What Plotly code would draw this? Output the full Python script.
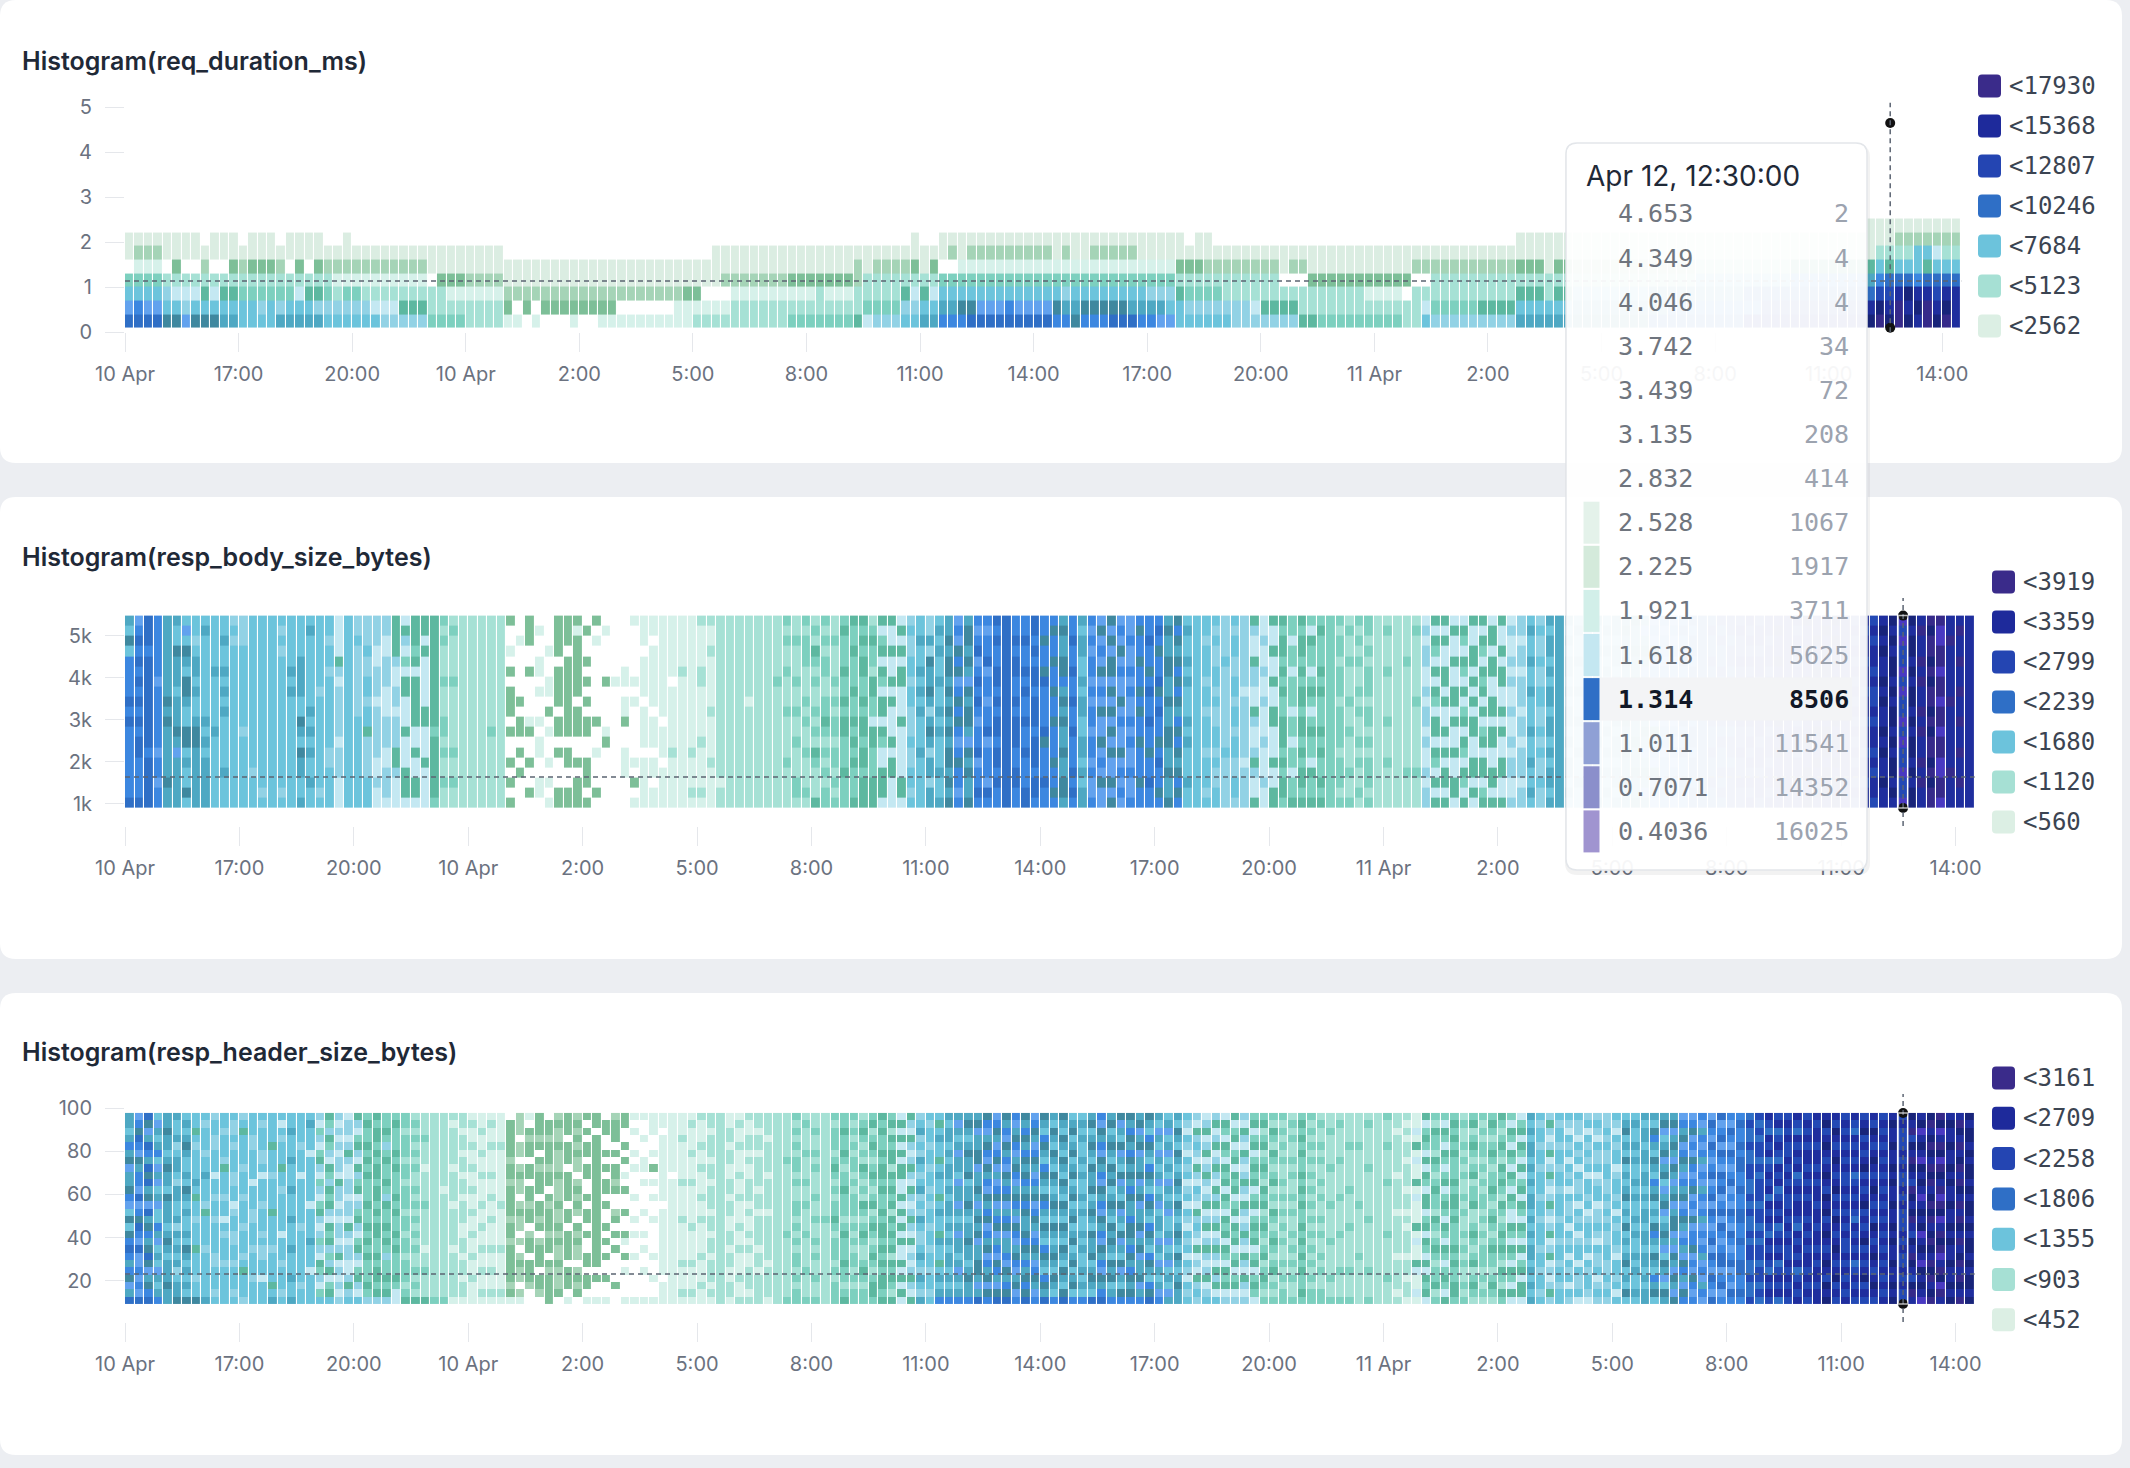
import re
import plotly.graph_objects as go

W, H = 2130, 1468
NCOL = 194            # 15-minute buckets, 10 Apr 14:00 -> 12 Apr 14:30
BIN_HOURS = 0.25

X_TICK_HOURS = [0, 3, 6, 9, 12, 15, 18, 21, 24, 27, 30, 33, 36, 39, 42, 45, 48]
X_TICK_TEXT = ["10 Apr", "17:00", "20:00", "10 Apr", "2:00", "5:00", "8:00", "11:00",
               "14:00", "17:00", "20:00", "11 Apr", "2:00", "5:00", "8:00", "11:00", "14:00"]

# colour classes seen in the heat cells ('.' = empty bucket)
PALETTE = {
    'a': '#d6f1ea', 'b': '#dbede2', 'c': '#a5d4b7', 'd': '#7dbf98', 'e': '#5db8a0',
    'f': '#a6e1d5', 'g': '#7dd0bf', 'h': '#c4e8f2', 'i': '#92d2e5', 'j': '#6cc4dc',
    'k': '#4ea8c3', 'l': '#3f889f', 'm': '#62a2ee', 'n': '#3c87e0', 'o': '#2f6fc6',
    'p': '#2349b5', 'q': '#1f2e9e', 'r': '#18247a', 's': '#362a8a', 't': '#4939c2',
}
CODES = list(PALETTE.keys())

# ---------------- panel 1: req_duration_ms (rows bottom -> top, run-length encoded)
P1_TITLE = "Histogram(req_duration_ms)"
P1_BUCKET_EDGES = [0.1, 0.4036, 0.7071, 1.011, 1.314, 1.618, 1.921, 2.225, 2.528]
P1_ROWS = [
    "4o2l1m3l2k4j5k6j5i4g4f2a1.1a3.1a2.10a10f7g1e1h3i2j2k3n9o2n1l3n3o2n2m6j7i2e9g2f1j9i6k8l10o13q1r1s1r1s1r1q1s1r1s1q",
    "1m1n2m2j1i7j1i1j1i3j6i3h3e8f1d1.1d1.8d6.6a14f4g2i2j2k2l3m1n4m1l2k5l4k2j7i1h4e13f1h5g4e6j10k10n11p1q1r1q1s1q1r1s1q1r1q",
    "4j1i3h1e1h2e6g1h2e1g1f2g9f6a19c2d3.9a1f3a5f1e1h1e1h13j1i8j3i1e4g15f4a1.11f3e1f2e8j10k13o1o1p1p1q1r1q1q1p1q1q",
    "4g18f10a1.3d4c23b7c7d1c8f25g11f3.11d2.15f13f10j8n1k1n1o1o1o1n1o1o1o1o",
    "1.3a1.1d2.1c2.1d1c3d1c1.1d1.1d11c45b1c1b4c1d1b1d2.23a3d8c1b2c11b11c3d1b2d13c10f8e1e1j1e1j1j1j1e1j1j1j",
    "1b3c36b22.25b1c1b9c1b1c2b5c46b31b1b1f1f1f1f1j1j1h1f1f",
    "8b1.3b1.3b1.4b2.1b59.1b2.26b1.2b32.6b31b3b7c",
    "184.10b",
]
P1_LEGEND = ["<17930", "<15368", "<12807", "<10246", "<7684", "<5123", "<2562"]

# ---------------- panel 2: resp_body_size_bytes (one string per column, top -> bottom)
P2_TITLE = "Histogram(resp_body_size_bytes)"
P2_BUCKET_START, P2_BUCKET_WIDTH, P2_NROWS = 905, 240.5, 19
P2_COLS = [
    "kjljnnnnononnnnnnno", "mnonononononoonnnno", "ooonooooooooonooooo", "nnnnnnmnnnnnnmnnmnn",
    "kkkkkkkklklkkkkklkk", "kjjlkkkjkkklkmkkkkk", "jmjlkjllkjjlljkjjlj", "jjijkkjkjjkllkkkkkk",
    "jkjjjjjjjjkjkjkkkkk", "jjjjjkjjjjjkjjjjjjj", "jjkjjkjkjkjjjjjkjjj", "ijijjjjjjjjjjjjjjjj",
    "iiijjjjjjjjijjjjjjj", "jjjjjjjjjjjjjjjijjj", "jjjjjjjjjjjjjjjjjij", "jjjjjjjjjjjjjjjjjjj",
    "jijijjjjjjjjjjjjjij", "jjjjjkjkjjjjjjjjjjj", "jjjjkkkkjjlkjlkkjjk", "jkjjjjjjjkjkjkjjkjj",
    "jjjjjjjijjjjjjjjjij", "jjijjijjjjjjjiijjjj", "hhhheihiiiiihiiihhh", "jjjjjjjjjjjjjjjjjjj",
    "iijiiiiiiijjjjjjjjj", "iiijiijjijjeiiiijjj", "iiihhiiihiiiiihhihh", "iihhiiihhhiiihhiiih",
    "eeeeihhiihiiieeihhh", "heihgheehhhehhheeeh", "eeegeheeeeehhehheeh", "eehehhhhheehhhehhhh",
    "eeeeeeeeeeegeeeeeeg", "gfgfffgfffggfgffgff", "fgffffgffffffgffgff", "fffffffffffffffffff",
    "fffffffffffffffffff", "fffffffffffffffffff", "fffffffffffgfffffff", "fffffffffffffffffff",
    "d..a.d.ddd.d..d.d.d", "..a.....d.dd.d.d...", "ddd..d....ad..d..d.", ".a..aa.a..a.aa..aa.",
    "...a..aa.d.a..a.a.a", "dddd.dddd.dd.d...dd", "ddd.dddddddd.dd..dd", "dadddddd.ddd..d.ddd",
    ".d..d.d.d.dd..ddd.d", "d.a.......d..a...d.", ".a....d....ad......", "......a............",
    ".....aa.aad..aaa...", "a.....a.a.....a.d.a", "aaa.aaaa.aaaa.aaaaa", "aa.aaaaaa.aaa.aa.aa",
    "aaaaaaaaaa.aaa.aaaa", "aaaaaa.aaaaaafaaaaa", "aaaaafaaaaaaaaaaaaa", "aaaaaaaaaaaaafaaafa",
    "faaaaffaaaaafaaaafa", "faafaaaaafaaaafaaaa", "ffffffffffffffffaff", "fffffffffffffffffff",
    "fffffffffffffffffff", "ffffffffaffffffffff", "fffffffffffffffffff", "fffffffffffffffffff",
    "ffffffgffffffffffff", "gfgffgfffgffffgffff", "ffgfffgffgffgfffggf", "gfgggfffgfgffgfffgf",
    "fgfegfgffgfgfegfffe", "gfgfggffggegfgfgfgg", "ffgfffgfgfggfggfgfg", "gegggeggegeegggeggg",
    "eggegggeggegegeggge", "egegeeggegeegeegeee", "fgeggfeeggheegggeee", "ehgehegheeheghheeeh",
    "ehhehhehehhheheehhh", "heheheehhhehhhhheeh", "ijiijjijjiiijiijjij", "jjkjjkjkjkjjjkjjjjj",
    "iikilkklkiklkikkikk", "jkjkjjkjjkjkjjjkjjk", "kklkllklklklkllklkl", "mnmlnlmnlnlnmnlnnmn",
    "kllklkmlkllkmlklkkl", "nmnomnononmnnomnnon", "nmnnomnnmnnomnnnmon", "ononnoononoonoononn",
    "ooooooooooooooooooo", "nnonoonnonooonnoonn", "nnonnononnonnonnnoo", "oononoonooonooonoon",
    "nnlnnlonnnnolnnnonn", "nlnnlnnlnnlnnnlnnln", "klkkllnklklkklkkllk", "nnonnonnonnonnnonon",
    "kjkkjjkjkkjjkkjkjkk", "nmnmnnmnmnnmnnmnmmn", "mlmnmlmnmlmmlmnmlmm", "lmlmllmlmlmlmlmmlml",
    "mnmlmnmmlmnmmlmnmnm", "mmnmmnmnmmnmnmmnmmn", "nlnnlnnlnlnnlnnnlnn", "nnonnlnonnonnlnnonn",
    "nonlnnolnonnlnonnln", "klkkllkklkkllkklkkl", "lnlklnlnlknlnlklnln", "jkjjkjkjjjkjkjjjkjj",
    "jjjjjjjjjjjjjjjjjjj", "jjijjjijjijjjijjjij", "jijiijjijiijjijiijj", "iiiijiiiiiiiijiiiii",
    "jijjiijjijjijjiijji", "iiiiiiihiiiiiihiiii", "eihheiihheihhieihhe", "hhihhihhihhhihhhihh",
    "ehhehhehheehhhehhee", "egeegegeggeeegegeeg", "gghgghggghgghgghgge", "egeegegeegeegegeege",
    "ghegghgeghgegghegge", "gegggegegggegeggege", "ggggggggggggggggggg", "gfggfgggfggggfgggfg",
    "fgffgfffgffgfffgffg", "gfgfgffgfgffgfgffgf", "ggfgfgggfggfgfgggfg", "fffffffffffffffffff",
    "fgfffgffffgfffgffff", "fffffffffffffffffff", "ffffgffffffffffgfff", "fgffffffgffffffgfff",
    "hihiihhihiihihhihii", "eheghehegheeheghehe", "ehehheehehheheheehe", "hehhehheehehhehheeh",
    "hegheghehgehegheghe", "ehheeheheheehheeheh", "eheghegehehgeheehge", "heeheehheeheehheehe",
    "ehheheehhehehheehhe", "hihhihihhihhihiihhi", "iihiihiiihiihiiihii", "jkjjkjjkjjjkjjkjjkj",
    "ijiijiijjiijijiijii", "kjkkjkjkkjkkjkjkkjk", "kkkkkkkkkkkkkkkkkkk",
    # 11 Apr 03:45 -> 12 Apr 11:45 (behind the tooltip)
    "kjkjkkjkjkkjkjkkjkj", "jkjjkjjkjjkjjkjjkjj", "jjkjjjkjjjkjjjkjjjk", "kjjkjjkjjkjjkjjkjjk",
    "jkjkjkjkjkjkjkjkjkj", "kkjkkjkkjkkjkkjkkjk", "klkklkklkklkklkklkk", "lkklkklkklkklkklkkl",
    "kmklkmklkmklkmklkmk", "mnmlmnmlmnmlmnmlmnm", "nmnnmnnmnnmnnmnnmnn", "mnmnmnmnmnmnmnmnmnm",
    "nonnonnonnonnonnonn", "onoonoonoonoonoonoo", "ooooooooooooooooooo", "opoopoopoopoopoopoo",
    "popoopopoopopoopopo", "ppoppoppoppoppopppp", "pqppqppqppqppqppqpp", "qpqpqpqpqpqpqpqpqpq",
    "pqqpqqpqqpqqpqqpqqp", "qqpqqpqqpqqpqqpqqpq", "qrqqrqqrqqrqqrqqrqq", "qqqqqqqqqqqqqqqqqqq",
    "qpqqpqqpqqpqqpqqpqq", "rqqrqqrqqrqqrqqrqqr", "qqrqqrqqrqqrqqrqqrq", "qrqrqrqrqrqrqrqrqrq",
    "rqrqrqrqrqrqrqrqrqr", "qqqqqqqqqqqqqqqqqqq", "pqpqpqpqpqpqpqpqpqp", "qpqqpqqpqqpqqpqqpqq",
    # 12 Apr 11:45 -> 14:15
    "pqpqqpqppqpqqpqpqqp", "qrqrqqrqrqqrqrqqrqq", "rqrqrrqrqrrqrqrrqrq", "tptpptptpptptpptppt",
    "rqrrqrqrrqrqrrqrqrr", "qsqqsqsqqsqsqqsqsqq", "srssrsrssrsrssrsrss", "sttsstsstsstssttsst",
    "qqsqqqqqsqqqqqqsqqq", "qsqqsqqsqqsqqsqqsqq", "qqqqqqqqqqqqqqqqqqq",
]
P2_LEGEND = ["<3919", "<3359", "<2799", "<2239", "<1680", "<1120", "<560"]

# ---------------- panel 3: resp_header_size_bytes (one string per column, top -> bottom)
P3_TITLE = "Histogram(resp_header_size_bytes)"
P3_BUCKET_START, P3_BUCKET_WIDTH, P3_NROWS = 9.15, 3.41, 26
P3_COLS = [
    "kkjknklmkklnmjljlnonknlmko", "mnlonmlknnmomnlonmommnmnmo", "olmkonkoloklmoklnklolmklno",
    "jmkjknjmkmjkmjjnkmjkjmkjkn", "kklkkjklkkjlkkkjklkjkkklkk", "kjjkijkkjikkjjkikjkjkijkkl",
    "jkjklkjjkjlkjkjjkjlkjkjkjl", "jjejijjjjkjejjijjjejjjijjl", "jijjjijjkjjjiejjjjijjjjjjk",
    "ijjiijjjhjjijjijjjjiijjjij", "jjijjjiejjjijjhjijjjijjjjj", "jiijijjjiijjhijjiijjijjjij",
    "ijejjjjijjjijjjijjjijejjji", "jjjiijjjjhjjjiijjjijjjijjj", "jijjjiijhjjjijjjijiijjhjjj",
    "jjjjejjjijjjjejjjjijjjjejk", "jhjijjjejjijjjjjhjjjijjjij", "jjkjjjkjjjkjjjkjjjkjjjkjjk",
    "jjjjijjjhjjjjjjijjjjjjjijj", "jkjjjhjjjjjjhjjjjkjjjhjjjj", "ihgihgeihgihgeihigihegihgj",
    "egiegihegiegeihegeigiehgej", "ihihihiiheiihihiihiehihihi", "hiihieihhiihiiheihiihhieij",
    "eihgeiheigehigeihgeihgeihj", "geggegegegggeggegegegggegi", "egeegegeegeegegeeggegeegei",
    "ggegigeggegieggegegiggegei", "gegggegegggegeggegegggeghh", "ggfgggfggfgggfggfggfgggfge",
    "fgfgfgfgffgfgfgfgfgffgfgfe", "fffgfffaffffgfffffaffgfffe", "fffffffffffffffffffffffffg",
    "ffffffffffaffffffffffffffg", "fafffffaffffafffffaffffffa", "ffaffaffaffafffaaffaffaffa",
    "afaafaafaafaafaafaafaafaaa", "aafaafaafaaafaafaafaafaafa", "afaafaaafaafaafaaafaafaafa",
    "aaaafaaaaaaafaaaaafaaaaafa", ".dddddcddcddddcddcdddddcda", "ccc.cc.cdcc.cdcc.c.cdcc.ca",
    "a.dcdd.dd.ddcdd.cdd.dddc..", "dddcd.dcddd.ddcd.cddd.ddc.", ".ddcdddcdd.dcdddcdd.dcdddd",
    "cdccdcccdcccdccdcdccdcccd.", "ddd.ddd.dddd.dd.dddd.ddd.a", "cdcdcdcc.cdcdc.dcdcc.cdcd.",
    "d.d.dd.dd..d.dd.d..dd.dd.a", "dd.dddddddddddddddddd.d..a", ".dd..d.d.dd.d..d.d.d..d..a",
    "cddd.d.ddcd..cd.d.d....d..", "dd..d.d.a.d..d..da.d.a...a", "a.a..a.a...a..a.a..a.....a",
    "a..a..aa.a...a..a.a..a...a", "aaa..a.d.a.a..a....a..a..a", "aa.aaaaaaaaa.aaaaaaaaa.aaa",
    "aaaaaaaa.aaaaaaaaaaaaaaaaa", "aaafaaaaafaaaafaaaaafaaafa", "afaaafaaafaaaaafaaaafaaafa",
    "faaafaafaaafaafaaaafaaafaa", "ffafffaffafffaffaffafffafa", "ffffffffffffffffffffffffff",
    "aaffaffaaffaffaaffaffaaffa",
    "afaafaaafaafaaafaafaaafaaf", "faaffafaafffafaafafaafffaf", "ffaffaffffaffaffffaffaffff",
    "fffaffffaffffaffffffaffffa", "ffffffffffffffffffffffffff", "ffffffgfffffffffgffffffffg",
    "gfgfgfggfgffggfgfgfggfgfgg", "fgfffgfffgffgfffgffffgfffg", "ffgffgfgfffgffgffgfgffgffg",
    "ffffffffffffffgfffffffffff", "gfgggfgegfgfggegfgggfgfggg", "ggeggegfggegggfgegggeggfge",
    "gfgfgfggfgfgggfgfgfggfgfgg", "fgegfgfegfgfegfgegffgegfgg", "gefgegfgegfgefgegfgegfgeeg",
    "egeggegeegeggegeegegegeege", "gefegeefegegefegegefegegfe", "heheheheehhehehehehheheheh",
    "eiheihieiheihieihehihieihe", "ijkijikjijkijikjiijkjikjik", "jijjijjijjijijjijjijjijjij",
    "jejkjjejkjjejkjjekjjejkjkn", "kjkkjkjkkjkjkkjkjkjkkjkjkn", "kmkjkmkkjmkkmkjkmkkjkmkjkn",
    "klkjklkkljkklkjkklkkjklkkn", "klmkkllmkklkmklklmkkllkmko", "lnmklnmlknmlknlmnklmnklmln",
    "mnlkmnlmkmnlmknlmknmlnkmlo", "lknmlknmlknlmknlmkknmlknlo", "nmklnmklnmklnkmlnmklnmklmn",
    "lknlknlklnklnlkklnlknklnlo", "mnlkmnlkmnklmnlkmnlkmnlkmn", "lkjnlkjnlkjlnkjlkjnlkjnlko",
    "kjlkjlkjlkjklkjlkjklkjlkjn", "lkjlkjlkjlkjlkjlkjlkjlkjlo", "jkljkljkljkljkljkljkljkljn",
    "jkjkjjkjkjjkjkjjkjkjjkjkjn", "kljklkjlkkljklkjlkkljklkjo", "nmlknmlknmlknmlknmlknmlkno",
    "kljklkjlkljklkjlklkjlkljkn", "lmkjlmkjlmkjlmkjlmkjlmkjln", "lknlknlklknlkknllknlknlkln",
    "klmklmkklmklmkklmklmkklmkn", "lkjnlkjnlkjnlkjnlkjnlkjnlo", "kjmkjmkjkmjkmjkkjmkjmkjkmn",
    "jkmjkmjkjmkjkmjjkmjkmjkjmk", "kjlkjlkjklkjlkjklkjlkjklkk", "jihjihjijhijhjihjijhjihjij",
    "iheijiheihjiheijihehiheiji", "hiehiehieihiehiehieihiehij", "iehiehieiheiehiehieiheiehj",
    "hegheghegeheghegeheghegehi", "ehgehgehegehgehegehgehgehi", "iheiheihieiheihieiheiheihi",
    "gehgehgegehgehgegehgehgegh", "gefgefgegfegefgegfgefgegfg", "gfegfegfgefgfegfgegfgefgfg",
    "gfgfgfgffgfgfgfgfgffgfgfgg", "fgfgffgfgffgfgffgfgfgfgffg", "gegegeggegegeggegegegeggeg",
    "gfgfgfgfgfgfgfgfgfgfgfgfgg", "fgffgfgffgfgffgfgffgfgffgg", "ffgffffgffffgffffgffffgffg",
    "fgffffgffffgffffgffffgfffg", "ffffgfffffgffffgfffffgfffg",
    "ffffgfffffffgffffffgffffff", "fgfffffgffffffgffffffgfffg", "ffffffffffffffffffffffffff",
    "gfffgffffgffffffgfffffgfff", "ffafffffaffffafffffaffffaf", "fafaffafffaffafafffaffaffa",
    "aahaeahaaeahaaaeahaaehaaha", "ehgeghehegheehgeheghehegeh", "gfeggfegfgeggfegfgegfggefg",
    "ghegheghgehgeghegheghgeghe", "gegegegggegeegegggegeggeeg", "fgffgfgfgffgfgffgfgfgffgfg",
    "gefgegfgefggeffgegfgefgegf", "gfgfggfgfgfggfgfgfgggfgfgf", "gegfgegfggegfgegfgeggfgegf",
    "egfgegfegegfegfgegegfegfeg", "ghegheghegheghhegheghegheh", "hgeheghehgehegheghehgeheeh",
    "kjkjkkjkjkjkkjkjkjkkjkjkjk", "jijjijjijjjijjijjjijjijjij", "ieihiehieihieihiehiehihiei",
    "jijjijjijjijjjijjijjijjijj", "jihjijhjijhjiijhjijhjijhji", "jiihjijhjiijhjijhijjhjiijh",
    "ijhjijijhjjijhijjijhjijjih", "ijihjiijhijjhiijihjiijhiji", "iijijiijjiijijijiijjiijiji",
    "jihjijjhijjijhjijjihjjijhj", "jkljkjljkjkljkjljkjkljkjlj", "jkjjkjkjjkjkjjkjkjjkjkjjkj",
    "kjkkjkkjkkjkjkkjkkjkkjkjkk", "kjlnkjlkjnkljkjlnkjlkjnklj", "klmjklmkljmklmjklkmjlkmjlk",
    "klmklkmlkmklmkllmkmlkmlkml", "mnklmnlkmnklmnlkmnkmlnkmln", "mnlmnmlnmnlmnmlmnnlmnmlnmn",
    "nmknmnkmnmknmnkmnmnkmnmknm", "monmonmnomnomonmnomonmonmo", "omnomonmonomnomonmnoomnomn",
    "nmonmonmnomnmonmonmnomnmon", "nonnonoonnonnoonnonnoonnon", "opoopooppoopopoopoppoopoop",
    "popoppopopppoppopoppoppopo", "qpoqpqopqpqoqpqpoqpqpoqpqp", "pqopqpoqpqopqpqopqpqopqpqo",
    "pqpqppqpqpqppqpqpqppqpqpqp", "qpoqpqpqopqpqqpoqpqpqopqpq", "pqpqpqqpqpqpqqpqpqpqqpqpqp",
    "qpqqpqqpqpqqpqqpqqpqpqqpqq", "qrpqrqpqrqprqrpqrqpqrqprqr", "qprqpqrqpqrpqprqpqrqpqrpqp",
    "pqpqpqpqppqpqpqpqppqpqpqpq", "qpoqpqpqopqpqpoqpqpqopqpqp", "pqrpqpqrpqpqrpqpqrpqpqrpqp",
    "qprqpqrqpqrqpqprqpqrqpqrqp", "pqpqpqpqpqpqpqpqpqpqpqpqpq", "qrqqrqqrqrqqrqqrqrqqrqqrqr",
    "pqpppqpqppqpqpppqpqppqpqpp", "rqsprqsrqpsrqrsqprqsrqprsq", "qrtqrqtrqrqtqrqrtqrqtrqrqt",
    "rsqrsrqsrsqrsrsqrsrqsrsqrs", "srtqsrtsrqstsrtqsrstqsrtsq", "qrqqrqqrqrqqrqqrqrqqrqqrqr",
    "qsrqsqrsqsrqsqsrqsqrsqsrqs", "rqrrqrqrrqrqrrqrqrrqrqrrqr",
]
P3_LEGEND = ["<3161", "<2709", "<2258", "<1806", "<1355", "<903", "<452"]

LEGEND_COLORS = ["#3a2b8a", "#1e2a9b", "#2445b2", "#2f6fc6", "#6cc3dc", "#a6e0d4", "#dcefe4"]

# ---------------- hover tooltip (12 Apr 12:30 bucket of panel 1)
TT_TITLE = "Apr 12, 12:30:00"
TT_BUCKETS = ["4.653", "4.349", "4.046", "3.742", "3.439", "3.135", "2.832", "2.528",
              "2.225", "1.921", "1.618", "1.314", "1.011", "0.7071", "0.4036"]
TT_COUNTS = [2, 4, 4, 34, 72, 208, 414, 1067, 1917, 3711, 5625, 8506, 11541, 14352, 16025]
TT_SWATCH = [None] * 7 + ["#e4f2ea", "#d4eadb", "#d2efe9", "#c4e7f1", "#2f6fc6",
                          "#8fa0d5", "#8b8fcb", "#a094d0"]
TT_ACTIVE = 11
HOVER_HOUR = 46.625
HOVER_Y = [1.14, 1641, 23.1]


def rle(s):
    return "".join(ch * int(n) for n, ch in re.findall(r"(\d+)(\D)", s))


def fit(s, n):
    return s[:n] if len(s) >= n else s + s[-1] * (n - len(s))


def fit_list(cols):
    cols = list(cols)[:NCOL]
    while len(cols) < NCOL:
        cols.append(cols[-1])
    return cols


def val(ch):
    return None if ch == "." else CODES.index(ch) + 0.5


def px(x):
    return x / W


def py(y):
    return 1 - y / H


NC = len(CODES)
COLORSCALE = []
for i, k in enumerate(CODES):
    COLORSCALE += [[i / NC, PALETTE[k]], [(i + 1) / NC, PALETTE[k]]]

x_edges = [c * BIN_HOURS for c in range(NCOL + 1)]

# z matrices (rows bottom -> top)
z1 = [[val(ch) for ch in fit(rle(r), NCOL)] for r in P1_ROWS]


def cols_to_z(cols, nrows):
    cols = [fit(s, nrows)[::-1] for s in fit_list(cols)]
    return [[val(cols[c][r]) for c in range(NCOL)] for r in range(nrows)]


z2 = cols_to_z(P2_COLS, P2_NROWS)
z3 = cols_to_z(P3_COLS, P3_NROWS)
y2_edges = [P2_BUCKET_START + k * P2_BUCKET_WIDTH for k in range(P2_NROWS + 1)]
y3_edges = [P3_BUCKET_START + k * P3_BUCKET_WIDTH for k in range(P3_NROWS + 1)]

panels = [
    dict(z=z1, y=P1_BUCKET_EDGES, title=P1_TITLE, ty=61, xr=(125, 1961.2), yr=(102.8, 332.3),
         rng=(0, 5.1), tv=[0, 1, 2, 3, 4, 5], tt=["0", "1", "2", "3", "4", "5"],
         legend=P1_LEGEND, lx=1978, ly=86, lstep=40, dots=(4.653, 0.1)),
    dict(z=z2, y=y2_edges, title=P2_TITLE, ty=557, xr=(125, 1974.6), yr=(598, 826),
         rng=(477, 5893), tv=[1000, 2000, 3000, 4000, 5000], tt=["1k", "2k", "3k", "4k", "5k"],
         legend=P2_LEGEND, lx=1992, ly=582, lstep=40, dots=(y2_edges[-1], y2_edges[0])),
    dict(z=z3, y=y3_edges, title=P3_TITLE, ty=1052, xr=(125, 1974.6), yr=(1094, 1322),
         rng=(0.8, 106.6), tv=[20, 40, 60, 80, 100], tt=["20", "40", "60", "80", "100"],
         legend=P3_LEGEND, lx=1992, ly=1078, lstep=40.3, dots=(y3_edges[-1], y3_edges[0])),
]


def rrect(x0, y0, x1, y1, r):
    X0, X1 = px(x0), px(x1)
    Y0, Y1 = py(y0), py(y1)
    rx, ry = r / W, r / H
    return (f"M{X0+rx},{Y0} L{X1-rx},{Y0} Q{X1},{Y0} {X1},{Y0-ry} L{X1},{Y1+ry} "
            f"Q{X1},{Y1} {X1-rx},{Y1} L{X0+rx},{Y1} Q{X0},{Y1} {X0},{Y1+ry} "
            f"L{X0},{Y0-ry} Q{X0},{Y0} {X0+rx},{Y0} Z")


fig = go.Figure()
shapes, annos = [], []
TICKFONT = dict(family="Inter, Roboto, sans-serif", size=20, color="#6b7280")

# cards
for (y0, y1) in [(0, 463), (497, 959), (993, 1455)]:
    shapes.append(dict(type="path", path=rrect(0, y0, 2122, y1, 16), xref="paper", yref="paper",
                       fillcolor="#ffffff", line=dict(width=0), layer="below"))

layout_axes = {}
for i, p in enumerate(panels):
    n = "" if i == 0 else str(i + 1)
    xa, ya = "x" + n, "y" + n
    fig.add_trace(go.Heatmap(z=p["z"], x=x_edges, y=p["y"], colorscale=COLORSCALE,
                             zmin=0, zmax=NC, showscale=False, xgap=1.1, ygap=0,
                             hoverinfo="skip", xaxis=xa, yaxis=ya))
    fig.add_trace(go.Scatter(x=[HOVER_HOUR, HOVER_HOUR], y=list(p["dots"]), mode="markers",
                             marker=dict(size=10, color="#111111"), cliponaxis=False,
                             hoverinfo="skip", showlegend=False, xaxis=xa, yaxis=ya))
    layout_axes["xaxis" + n] = dict(
        domain=[px(p["xr"][0]), px(p["xr"][1])], range=[0, NCOL * BIN_HOURS], anchor=ya,
        tickmode="array", tickvals=X_TICK_HOURS, ticktext=X_TICK_TEXT, ticks="outside",
        ticklen=19, tickwidth=1, tickcolor="#e5e7eb", tickfont=TICKFONT, ticklabelstandoff=5,
        showgrid=False, zeroline=False, showline=False, fixedrange=True, automargin=False)
    layout_axes["yaxis" + n] = dict(
        domain=[py(p["yr"][1]), py(p["yr"][0])], range=list(p["rng"]), anchor=xa,
        tickmode="array", tickvals=p["tv"], ticktext=p["tt"], ticks="outside", ticklen=19,
        tickwidth=1, tickcolor="#e5e7eb", tickfont=TICKFONT, ticklabelstandoff=9,
        showgrid=False, zeroline=False, showline=False, fixedrange=True, automargin=False)
    # hover crosshair
    shapes.append(dict(type="line", xref=xa, yref=ya + " domain", x0=HOVER_HOUR, x1=HOVER_HOUR,
                       y0=0, y1=1, line=dict(color="#5b6472", width=1.5, dash="5px,4px"),
                       layer="above"))
    shapes.append(dict(type="line", xref=xa + " domain", yref=ya, x0=0, x1=1,
                       y0=HOVER_Y[i], y1=HOVER_Y[i],
                       line=dict(color="#5b6472", width=1.5, dash="5px,4px"), layer="above"))
    if i > 0:
        shapes.append(dict(type="rect", xref=xa, yref=ya, x0=HOVER_HOUR - 0.125,
                           x1=HOVER_HOUR + 0.125, y0=p["y"][0], y1=p["y"][-1],
                           line=dict(color="rgba(255,255,255,0.7)", width=1.5), layer="above"))
    # title
    annos.append(dict(x=px(20), y=py(p["ty"]), xref="paper", yref="paper", text=p["title"],
                      showarrow=False, xanchor="left", yanchor="middle",
                      font=dict(family="Inter, sans-serif", size=25, color="#1f2937",
                                weight=600)))
    # legend
    for k, (lab, col) in enumerate(zip(p["legend"], LEGEND_COLORS)):
        cy = p["ly"] + k * p["lstep"]
        shapes.append(dict(type="path", path=rrect(p["lx"], cy - 11.5, p["lx"] + 23, cy + 11.5, 4),
                           xref="paper", yref="paper", fillcolor=col, line=dict(width=0)))
        annos.append(dict(x=px(p["lx"] + 29), y=py(cy), xref="paper", yref="paper", text=lab,
                          showarrow=False, xanchor="left", yanchor="middle",
                          font=dict(family="DejaVu Sans Mono, monospace", size=24,
                                    color="#3b4452")))

# tooltip box
TX0, TY0, TX1, TY1 = 1566, 143, 1867, 870
shapes.append(dict(type="path", path=rrect(TX0 - 1, TY0 + 2, TX1 + 3, TY1 + 5, 12), xref="paper",
                   yref="paper", fillcolor="rgba(0,0,0,0.05)", line=dict(width=0), layer="above"))
shapes.append(dict(type="path", path=rrect(TX0, TY0, TX1, TY1, 11), xref="paper", yref="paper",
                   fillcolor="rgba(255,255,255,0.94)", line=dict(color="#e3e6ea", width=1.5),
                   layer="above"))
ROW0, ROWSTEP = 214, 44.1
annos.append(dict(x=px(1584), y=py(176), xref="paper", yref="paper", text=TT_TITLE,
                  showarrow=False, xanchor="left", yanchor="middle",
                  font=dict(family="Inter, sans-serif", size=28, color="#1f2937")))
for k, (b, cnt, sw) in enumerate(zip(TT_BUCKETS, TT_COUNTS, TT_SWATCH)):
    cy = ROW0 + k * ROWSTEP
    active = k == TT_ACTIVE
    if active:
        shapes.append(dict(type="rect", xref="paper", yref="paper", x0=px(1600), x1=px(1852),
                           y0=py(cy - 21.5), y1=py(cy + 21.5), fillcolor="#f3f4f6",
                           line=dict(width=0), layer="above"))
    if sw:
        shapes.append(dict(type="rect", xref="paper", yref="paper", x0=px(1583.5), x1=px(1599.5),
                           y0=py(cy - 21), y1=py(cy + 21), fillcolor=sw, line=dict(width=0),
                           layer="above"))
    f1 = dict(family="DejaVu Sans Mono, monospace", size=25,
              color="#111827" if active else "#6f757e", weight=700 if active else 400)
    f2 = dict(f1, color="#111827" if active else "#9ca3af")
    annos.append(dict(x=px(1616), y=py(cy), xref="paper", yref="paper", text=b, showarrow=False,
                      xanchor="left", yanchor="middle", font=f1))
    annos.append(dict(x=px(1851), y=py(cy), xref="paper", yref="paper", text=str(cnt),
                      showarrow=False, xanchor="right", yanchor="middle", font=f2))

fig.update_layout(width=W, height=H, autosize=False,
                  margin=dict(l=0, r=0, t=0, b=0, pad=0, autoexpand=False),
                  paper_bgcolor="#eceef2", plot_bgcolor="rgba(0,0,0,0)", showlegend=False,
                  shapes=shapes, annotations=annos, **layout_axes)
fig.write_html("out.html", config={"responsive": False, "displayModeBar": False},
               post_script="document.body.style.margin='0';document.body.style.padding='0';"
                           "document.documentElement.style.overflow='hidden';")
